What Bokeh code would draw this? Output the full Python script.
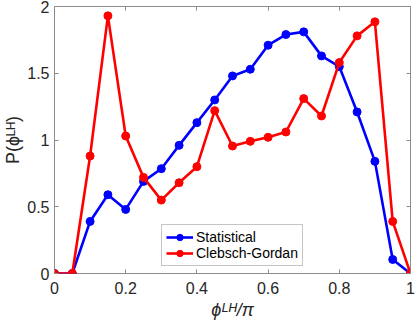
from bokeh.plotting import figure
from bokeh.models import LinearAxis, FixedTicker, Range1d
from bokeh.embed import file_html
from bokeh.resources import INLINE

# ---- data ----
phi = [0.0, 0.05, 0.1, 0.15, 0.2, 0.25, 0.3, 0.35, 0.4, 0.45, 0.5,
       0.55, 0.6, 0.65, 0.7, 0.75, 0.8, 0.85, 0.9, 0.95, 1.0]
statistical = [0.0, 0.0, 0.39, 0.59, 0.48, 0.69, 0.785, 0.96, 1.13, 1.30, 1.48,
               1.53, 1.71, 1.79, 1.81, 1.63, 1.55, 1.21, 0.84, 0.105, 0.0]
clebsch_gordan = [0.0, 0.0, 0.88, 1.93, 1.03, 0.72, 0.55, 0.68, 0.80, 1.22, 0.955,
                  0.99, 1.02, 1.06, 1.31, 1.18, 1.58, 1.78, 1.885, 0.39, 0.0]
x_ticks = [0, 0.2, 0.4, 0.6, 0.8, 1.0]
x_tick_labels = ["0", "0.2", "0.4", "0.6", "0.8", "1"]
y_ticks = [0, 0.5, 1.0, 1.5, 2.0]
y_tick_labels = ["0", "0.5", "1", "1.5", "2"]
series_names = ["Statistical", "Clebsch-Gordan"]
x_title = "ϕᴸᴴ/π"
y_title = "P(ϕᴸᴴ)"

FONT = "Liberation Sans"
AX = "#8c8c8c"
TXT = "#262626"
W, H = 415, 326

p = figure(width=W, height=H, output_backend="svg", toolbar_location=None,
           x_range=Range1d(0, 1), y_range=Range1d(0, 2),
           x_axis_location=None, y_axis_location=None,
           min_border_left=54, min_border_right=5, min_border_top=6, min_border_bottom=53)
p.xgrid.visible = False
p.ygrid.visible = False
p.outline_line_color = AX
p.outline_line_width = 1
p.background_fill_color = "white"
p.border_fill_color = "white"


def make_axis(ticks, labels, show_labels, standoff):
    ax = LinearAxis(ticker=FixedTicker(ticks=ticks))
    ax.major_label_overrides = {t: (l if show_labels else "") for t, l in zip(ticks, labels)}
    ax.axis_line_color = None
    ax.major_tick_line_color = AX
    ax.major_tick_in = 4
    ax.major_tick_out = 0
    ax.minor_tick_line_color = None
    ax.major_label_text_font = FONT
    ax.major_label_text_font_size = "16px"
    ax.major_label_text_color = TXT
    ax.major_label_standoff = standoff
    ax.axis_label_text_font = FONT
    ax.axis_label_text_font_size = "18px"
    ax.axis_label_text_color = TXT
    return ax


xb = make_axis(x_ticks, x_tick_labels, True, 8)
xb.axis_label = x_title
xb.axis_label_text_font_style = "italic"
xb.axis_label_standoff = 3
yl = make_axis(y_ticks, y_tick_labels, True, 5)
yl.axis_label = y_title
yl.axis_label_text_font_style = "normal"
yl.axis_label_standoff = 1
p.add_layout(xb, "below")
p.add_layout(yl, "left")
p.add_layout(make_axis(x_ticks, x_tick_labels, False, 0), "above")
p.add_layout(make_axis(y_ticks, y_tick_labels, False, 0), "right")

colors = ["#0000ff", "#ff0000"]
for vals, name, c in zip([statistical, clebsch_gordan], series_names, colors):
    p.line(phi, vals, line_color=c, line_width=2.6, legend_label=name)
    p.scatter(phi, vals, marker="circle", size=8, fill_color=c, line_color=c,
              legend_label=name)

lg = p.legend[0]
lg.location = (107, 7)
lg.border_line_color = AX
lg.border_line_width = 1
lg.background_fill_alpha = 1
lg.padding = 4
lg.spacing = 0
lg.margin = 0
lg.glyph_width = 27
lg.glyph_height = 16
lg.label_height = 16
lg.label_standoff = 3
lg.label_text_font = FONT
lg.label_text_font_size = "14px"
lg.label_text_color = "black"

open("out.html", "w").write(file_html(p, INLINE))
